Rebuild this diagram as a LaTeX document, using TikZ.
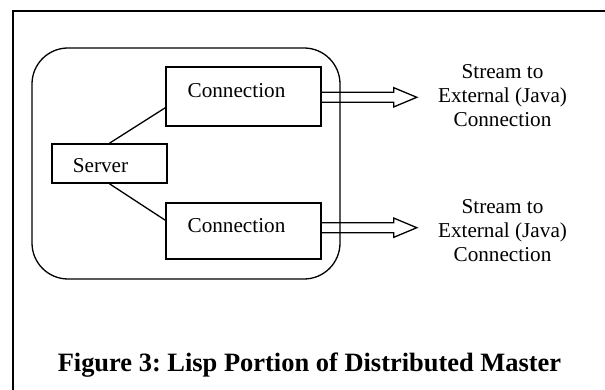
\documentclass[tikz,border=0pt]{standalone}
\usepackage{fontspec}
\setmainfont{Liberation Serif}
\usetikzlibrary{positioning}
\frenchspacing

\tikzset{
  part/.style={draw,line width=1.6pt,inner sep=0pt,font=\fontsize{21.2}{24.3}\selectfont},
  stream/.style={align=center,inner sep=0pt,font=\fontsize{21.2}{24.3}\selectfont},
}

\begin{document}
\begin{tikzpicture}[x=1pt,y=-1pt]
  \useasboundingbox (0,0) rectangle (605,390);
  \draw[line width=1.6pt] (13,392) -- (13,11) -- (607,11);
  % lisp side
  \node[draw,line width=1.3pt,rounded corners=36pt,minimum width=308pt,minimum height=231pt] (lisp) at (186,163.5) {};
  \node[part,minimum width=115pt,minimum height=39pt] (srv) at (109.5,163.5) {Server\hspace{18pt}\rule{0pt}{18.5pt}};
  \node[part,minimum width=155pt,minimum height=59pt] (conA) at (243.5,96.5) {Connection\hspace{14pt}\rule[-11.4pt]{0pt}{11.4pt}};
  \node[part,minimum width=155pt,minimum height=56pt] (conB) at (243.5,231) {Connection\hspace{14pt}\rule[-10.4pt]{0pt}{10.4pt}};
  \draw[line width=1.3pt] (srv.north) -- ([yshift=19pt]conA.south west);
  \draw[line width=1.3pt] (srv.south) -- ([yshift=-18pt]conB.north west);
  % streams out
  \foreach \c/\dy in {conA/4.2,conB/8.3}
    \draw[line width=1.3pt,line join=miter] ([yshift=\dy pt]\c.east) -- ++(72,0) -- ++(0,-4.6)
      -- ++(23,9.6) -- ++(-23,9.6) -- ++(0,-4.6) -- ++(-72,0);
  \node[stream,anchor=base] (extA) at (502.5,126.7) {Stream to\\External (Java)\\Connection};
  \node[stream,anchor=base] (extB) at (502.5,261.7) {Stream to\\External (Java)\\Connection};
  \node[font=\bfseries\fontsize{26.45}{30}\selectfont,anchor=base,inner sep=0pt] (cap) at (309.5,371.7)
    {Figure 3: Lisp Portion of Distributed Master};
\end{tikzpicture}
\end{document}
